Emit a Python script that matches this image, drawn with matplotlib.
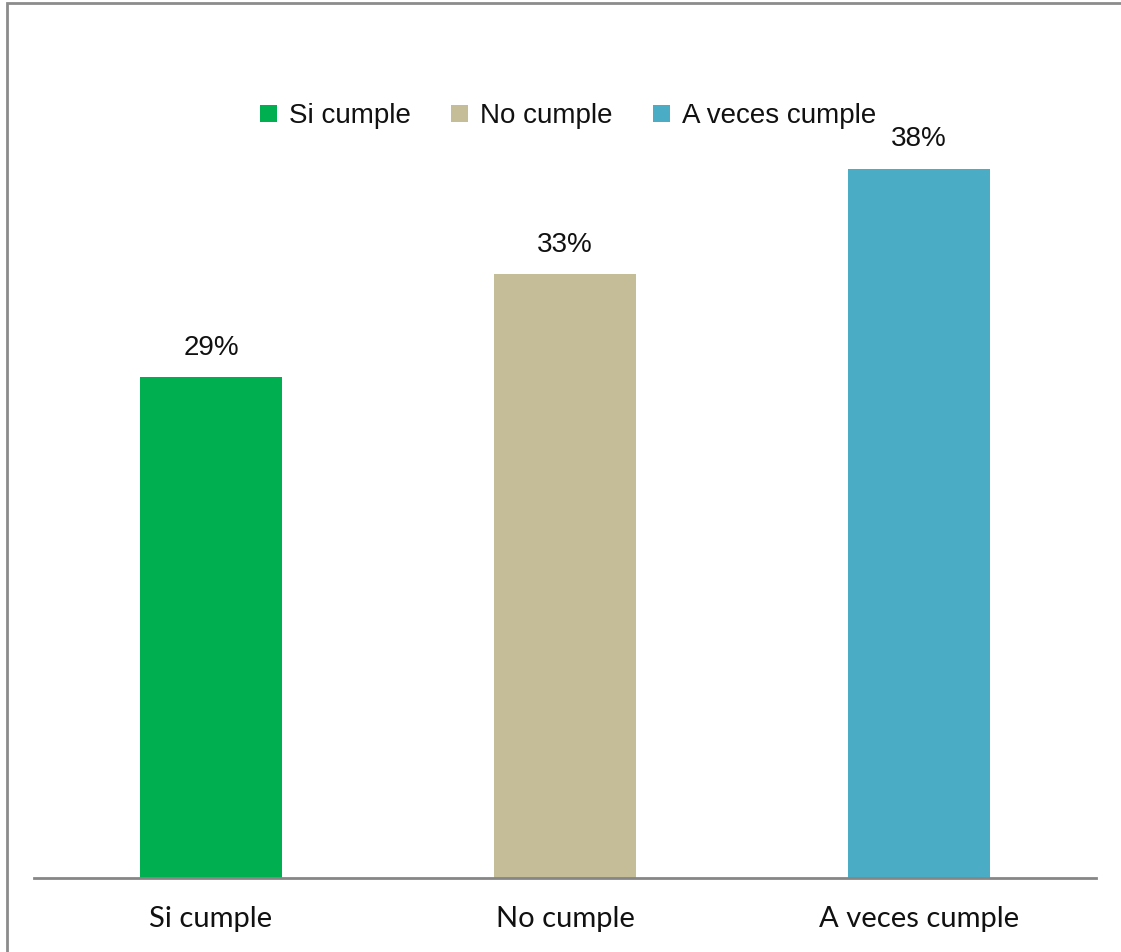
import matplotlib.pyplot as plt
from matplotlib.patches import Rectangle

categories = ["Si cumple", "No cumple", "A veces cumple"]
shares = [0.286, 0.333, 0.381]
colors = ["#00B050", "#C4BD97", "#4BACC6"]

fig = plt.figure(figsize=(11.21, 9.52), dpi=100)
ax = fig.add_axes([34 / 1121, 74 / 952, 1062 / 1121, 838 / 952])

x = range(len(categories))
bars = ax.bar(x, shares, width=0.40, color=colors, label=categories)

ax.set_xlim(-0.5, 2.5)
ax.set_ylim(0.0579, 0.4398)

for rect, v in zip(bars, shares):
    ax.annotate(f"{v:.0%}", (rect.get_x() + rect.get_width() / 2, v),
                xytext=(0, 12), textcoords="offset points",
                ha="center", va="bottom", fontsize=20,
                family="Liberation Sans", color="#111111")

ax.set_xticks(list(x))
ax.set_xticklabels(categories, fontsize=21, family="Lato", color="#111111")
ax.tick_params(axis="x", length=0, pad=20)
ax.set_yticks([])
for side in ["top", "left", "right"]:
    ax.spines[side].set_visible(False)
ax.spines["bottom"].set_color("#868686")
ax.spines["bottom"].set_linewidth(2)

leg = fig.legend(loc="center", bbox_to_anchor=(0.507, 0.878), ncol=3, frameon=False,
                 prop={"family": "Liberation Sans", "size": 20},
                 handlelength=0.6, handleheight=0.6, handletextpad=0.45,
                 columnspacing=1.45)
for t in leg.get_texts():
    t.set_color("#111111")

# outer chart frame
fig.patches.append(Rectangle((7 / 1121, -0.1), 1.2, 1.1 - 3 / 952,
                             transform=fig.transFigure, fill=False,
                             edgecolor="#8C8C8C", linewidth=2))

fig.savefig("out.png", dpi=100)
